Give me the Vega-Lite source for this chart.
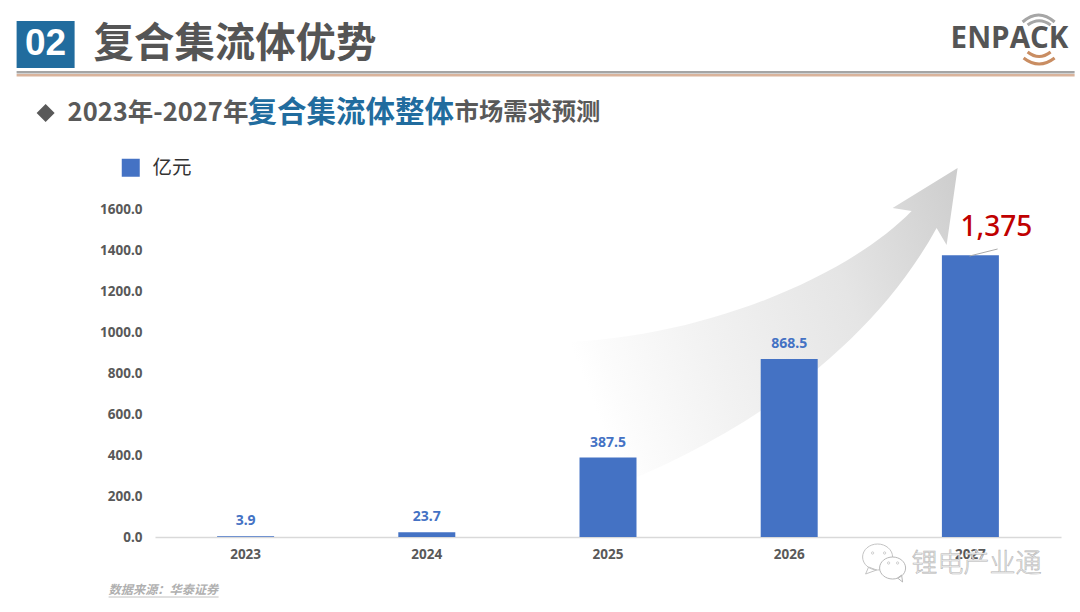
{
"$schema":"https://vega.github.io/schema/vega-lite/v6.json",
"width":906,"height":328,
"autosize":{"type":"none"},
"padding":{"left":155,"top":209,"right":19,"bottom":75},
"background":"#ffffff",
"config":{"view":{"stroke":null}},
"data":{"values":[
{"year":"2023","value":3.9,"series":"亿元"},
{"year":"2024","value":23.7,"series":"亿元"},
{"year":"2025","value":387.5,"series":"亿元"},
{"year":"2026","value":868.5,"series":"亿元"},
{"year":"2027","value":1375,"series":"亿元"}
]},
"encoding":{
"x":{"field":"year","type":"nominal","title":null,"scale":{"domain":["2023","2024","2025","2026","2027"],"paddingInner":0.6855,"paddingOuter":0.3428},"axis":{"labelAngle":0,"labelFont":"Noto Sans","labelFontSize":13.5,"labelFontWeight":"bold","labelColor":"#595959","labelPadding":10,"ticks":false,"domainColor":"#d9d9d9","domainWidth":1.5,"grid":false,"zindex":0}}
},
"layer":[
{"transform":[{"filter":"datum.year==='2023'"}],"mark":{"type":"point","xOffset":-1,"filled":true,"opacity":1,"size":4,"strokeWidth":0,"fill":{"gradient":"linear","x1":0,"y1":0.3,"x2":1,"y2":0,"stops":[{"offset":0,"color":"#ffffff"},{"offset":0.06,"color":"#fcfcfc"},{"offset":0.3,"color":"#f2f2f2"},{"offset":0.65,"color":"#e5e5e5"},{"offset":1,"color":"#cdcdcd"}]},"shape":"M713 -369 L648 -329 L667 -326 C605 -262 455 -194 295 -194 L355 -45 C495 -97 625 -187 692 -309 L702 -292 Z"},"encoding":{"y":{"datum":0,"type":"quantitative"}}},
{"mark":{"type":"bar"},"encoding":{"y":{"field":"value","type":"quantitative","title":null,"scale":{"domain":[0,1600],"nice":false},"axis":{"values":[0,200,400,600,800,1000,1200,1400,1600],"format":".1f","labelFont":"Noto Sans","labelFontSize":13.5,"labelFontWeight":"bold","labelColor":"#595959","labelPadding":13,"ticks":false,"domain":false,"grid":false,"zindex":0}},"color":{"field":"series","type":"nominal","title":null,"scale":{"range":["#4472c4"]},"legend":{"orient":"none","legendX":-34,"legendY":-51,"symbolType":"square","symbolSize":324,"symbolStrokeWidth":0,"labelFont":"Noto Sans CJK SC","labelFontSize":19.5,"labelColor":"#333333","labelOffset":12,"padding":0}}}},
{"transform":[{"filter":"datum.year!=='2027'"}],"mark":{"type":"text","font":"Noto Sans","fontSize":14,"fontWeight":"bold","color":"#4472c4","baseline":"middle","dy":-15},"encoding":{"y":{"field":"value","type":"quantitative"},"text":{"field":"value","type":"quantitative","format":".1f"}}},
{"transform":[{"filter":"datum.year==='2027'"}],"mark":{"type":"text","font":"Noto Sans","fontSize":28,"fontWeight":500,"color":"#c00000","baseline":"middle","dx":26,"dy":-27},"encoding":{"y":{"field":"value","type":"quantitative"},"text":{"field":"value","type":"quantitative","format":",.0f"}}},
{"transform":[{"filter":"datum.year==='2023'"}],"mark":{"type":"point","xOffset":-1,"filled":true,"opacity":1,"size":4,"strokeWidth":0,"fill":"#216c9e","shape":"M-228 -516 L-170 -516 L-170 -469 L-228 -469 Z"},"encoding":{"y":{"datum":0,"type":"quantitative"}}},
{"transform":[{"filter":"datum.year==='2023'"}],"mark":{"type":"point","xOffset":-1,"filled":true,"opacity":1,"size":4,"strokeWidth":0,"fill":"#a5a5a5","shape":"M-228 -466 L830 -466 L830 -463.5 L-228 -463.5 Z"},"encoding":{"y":{"datum":0,"type":"quantitative"}}},
{"transform":[{"filter":"datum.year==='2023'"}],"mark":{"type":"point","xOffset":-1,"filled":true,"opacity":1,"size":4,"strokeWidth":0,"fill":"#d9b39b","shape":"M-228 -463 L830 -463 L830 -460.5 L-228 -460.5 Z"},"encoding":{"y":{"datum":0,"type":"quantitative"}}},
{"transform":[{"filter":"datum.year==='2023'"}],"mark":{"type":"point","xOffset":-1,"filled":true,"opacity":1,"size":4,"strokeWidth":0,"fill":"#595959","shape":"M-199 -433 L-190 -424 L-199 -415 L-208 -424 Z"},"encoding":{"y":{"datum":0,"type":"quantitative"}}},
{"transform":[{"filter":"datum.year==='2023'"}],"mark":{"type":"text","text":"02","font":"Liberation Sans","fontSize":37,"fontWeight":"bold","color":"#ffffff","align":"center","baseline":"middle","dx":-200,"dy":-493},"encoding":{"y":{"datum":0,"type":"quantitative"}}},
{"transform":[{"filter":"datum.year==='2023'"}],"mark":{"type":"text","text":"复合集流体优势","font":"Noto Sans CJK SC","fontSize":40.4,"fontWeight":"bold","color":"#555555","align":"left","baseline":"middle","dx":-152,"dy":-492},"encoding":{"y":{"datum":0,"type":"quantitative"}}},
{"transform":[{"filter":"datum.year==='2023'"}],"mark":{"type":"text","text":"2023年-2027年","font":"Noto Sans CJK SC","fontSize":25.5,"fontWeight":"bold","color":"#595959","align":"left","baseline":"middle","dx":-178,"dy":-424},"encoding":{"y":{"datum":0,"type":"quantitative"}}},
{"transform":[{"filter":"datum.year==='2023'"}],"mark":{"type":"text","text":"复合集流体整体","font":"Noto Sans CJK SC","fontSize":29.5,"fontWeight":"bold","color":"#216c9e","align":"left","baseline":"middle","dx":2,"dy":-424},"encoding":{"y":{"datum":0,"type":"quantitative"}}},
{"transform":[{"filter":"datum.year==='2023'"}],"mark":{"type":"text","text":"市场需求预测","font":"Noto Sans CJK SC","fontSize":24.3,"fontWeight":"bold","color":"#595959","align":"left","baseline":"middle","dx":209,"dy":-424},"encoding":{"y":{"datum":0,"type":"quantitative"}}},
{"transform":[{"filter":"datum.year==='2023'"}],"mark":{"type":"text","text":"ENPACK","font":"Open Sans","fontSize":29.5,"fontWeight":700,"color":"#555555","align":"left","baseline":"middle","dx":705,"dy":-498},"encoding":{"y":{"datum":0,"type":"quantitative"}}},
{"transform":[{"filter":"datum.year==='2023'"}],"mark":{"type":"point","xOffset":-1,"filled":false,"opacity":1,"size":4,"strokeWidth":3,"stroke":"#a6a6a6","fill":"transparent","shape":"M778 -515 Q794 -529 810 -515 M783 -512 Q794.5 -520.5 806 -512"},"encoding":{"y":{"datum":0,"type":"quantitative"}}},
{"transform":[{"filter":"datum.year==='2023'"}],"mark":{"type":"point","xOffset":-1,"filled":false,"opacity":1,"size":4,"strokeWidth":3,"stroke":"#c98d62","fill":"transparent","shape":"M783 -485 Q794.5 -476 806 -485 M779 -479 Q794.5 -467 810 -479"},"encoding":{"y":{"datum":0,"type":"quantitative"}}},
{"transform":[{"filter":"datum.year==='2023'"}],"mark":{"type":"point","xOffset":-1,"filled":false,"opacity":1,"size":4,"strokeWidth":1,"stroke":"#aaaaaa","fill":"transparent","shape":"M725 -281 L753 -288"},"encoding":{"y":{"datum":0,"type":"quantitative"}}},
{"transform":[{"filter":"datum.year==='2023'"}],"mark":{"type":"text","text":"数据来源：华泰证券","font":"Noto Sans CJK SC","fontSize":12.2,"fontWeight":"bold","fontStyle":"italic","color":"#b0b0b0","align":"left","baseline":"middle","dx":-137,"dy":53},"encoding":{"y":{"datum":0,"type":"quantitative"}}},
{"transform":[{"filter":"datum.year==='2023'"}],"mark":{"type":"point","xOffset":-1,"filled":false,"opacity":1,"size":4,"strokeWidth":1,"stroke":"#c0c0c0","fill":"transparent","shape":"M-136 60 L-26 60"},"encoding":{"y":{"datum":0,"type":"quantitative"}}},
{"transform":[{"filter":"datum.year==='2023'"}],"mark":{"type":"point","xOffset":-1,"filled":true,"opacity":1,"size":4,"strokeWidth":1,"stroke":"#c4c4c4","fill":"#ffffff","shape":"M618 20 A15 13 0 1 1 648 20 A15 13 0 1 1 618 20 Z M624 30 L621 37 L632 33 Z"},"encoding":{"y":{"datum":0,"type":"quantitative"}}},
{"transform":[{"filter":"datum.year==='2023'"}],"mark":{"type":"point","xOffset":-1,"filled":true,"opacity":1,"size":4,"strokeWidth":1,"stroke":"#b8b8b8","fill":"#ffffff","shape":"M635 31 A13 11 0 1 1 661 31 A13 11 0 1 1 635 31 Z M653 41 L658 45 L657 38 Z"},"encoding":{"y":{"datum":0,"type":"quantitative"}}},
{"transform":[{"filter":"datum.year==='2023'"}],"mark":{"type":"point","xOffset":-1,"filled":true,"opacity":1,"size":4,"strokeWidth":0.8,"stroke":"#c4c4c4","fill":"#ffffff","shape":"M626.8 16 A1.2 1.2 0 1 1 629.2 16 A1.2 1.2 0 1 1 626.8 16 Z M638.8 16 A1.2 1.2 0 1 1 641.2 16 A1.2 1.2 0 1 1 638.8 16 Z M642.8 26 A1.2 1.2 0 1 1 645.2 26 A1.2 1.2 0 1 1 642.8 26 Z M651.8 26 A1.2 1.2 0 1 1 654.2 26 A1.2 1.2 0 1 1 651.8 26 Z"},"encoding":{"y":{"datum":0,"type":"quantitative"}}},
{"transform":[{"filter":"datum.year==='2023'"}],"mark":{"type":"text","text":"锂电产业通","font":"Noto Sans CJK SC","fontSize":26,"fontWeight":300,"fill":"#f4f4f4","stroke":"#b5b5b5","strokeWidth":0.6,"align":"left","baseline":"middle","dx":666,"dy":27},"encoding":{"y":{"datum":0,"type":"quantitative"}}}
]
}
